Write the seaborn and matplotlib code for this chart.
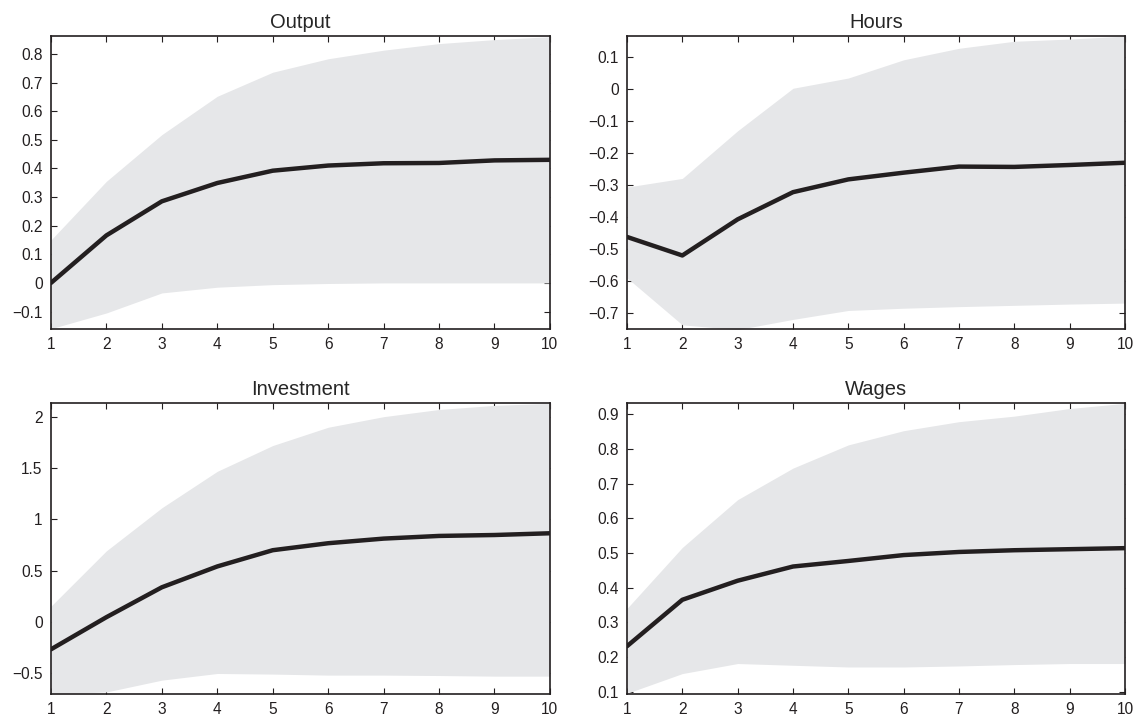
import numpy as np
import pandas as pd
import matplotlib
matplotlib.use('Agg')
import matplotlib.pyplot as plt
import seaborn as sns

# Horizon (periods)
periods = [1, 2, 3, 4, 5, 6, 7, 8, 9, 10]

# Output: median response and bands
output_mid = [0.0, 0.166, 0.285, 0.349, 0.392, 0.41, 0.418, 0.419, 0.428, 0.43]
output_hi = [0.15, 0.355, 0.518, 0.652, 0.736, 0.783, 0.813, 0.836, 0.85, 0.86]
output_lo = [-0.16, -0.105, -0.035, -0.015, -0.006, -0.002, 0.0, 0.0, 0.0, 0.0]

# Hours
hours_mid = [-0.462, -0.52, -0.407, -0.322, -0.282, -0.261, -0.242, -0.243, -0.237, -0.23]
hours_hi = [-0.306, -0.279, -0.13, 0.003, 0.035, 0.092, 0.128, 0.15, 0.157, 0.166]
hours_lo = [-0.59, -0.737, -0.752, -0.72, -0.692, -0.685, -0.68, -0.676, -0.672, -0.669]

# Investment
invest_mid = [-0.265, 0.048, 0.339, 0.542, 0.7, 0.768, 0.813, 0.839, 0.848, 0.865]
invest_hi = [0.155, 0.694, 1.113, 1.468, 1.719, 1.897, 2.0, 2.07, 2.11, 2.13]
invest_lo = [-0.7, -0.68, -0.565, -0.5, -0.506, -0.516, -0.516, -0.52, -0.526, -0.526]

# Wages
wages_mid = [0.231, 0.365, 0.42, 0.461, 0.477, 0.494, 0.503, 0.508, 0.511, 0.514]
wages_hi = [0.34, 0.516, 0.654, 0.745, 0.812, 0.853, 0.879, 0.895, 0.917, 0.932]
wages_lo = [0.095, 0.152, 0.181, 0.176, 0.171, 0.171, 0.174, 0.178, 0.181, 0.181]

titles = ['Output', 'Hours', 'Investment', 'Wages']
mids = [output_mid, hours_mid, invest_mid, wages_mid]
his = [output_hi, hours_hi, invest_hi, wages_hi]
los = [output_lo, hours_lo, invest_lo, wages_lo]
ylims = [(-0.161, 0.862), (-0.75, 0.166), (-0.7, 2.13), (0.093, 0.932)]
yticks = [np.arange(-0.1, 0.81, 0.1), np.arange(-0.7, 0.11, 0.1),
          np.arange(-0.5, 2.01, 0.5), np.arange(0.1, 0.91, 0.1)]
ytick_labels = [['-0.1', '0', '0.1', '0.2', '0.3', '0.4', '0.5', '0.6', '0.7', '0.8'],
                ['-0.7', '-0.6', '-0.5', '-0.4', '-0.3', '-0.2', '-0.1', '0', '0.1'],
                ['-0.5', '0', '0.5', '1', '1.5', '2'],
                ['0.1', '0.2', '0.3', '0.4', '0.5', '0.6', '0.7', '0.8', '0.9']]

sns.set_theme(style='ticks')
plt.rcParams['font.family'] = ['Liberation Sans', 'DejaVu Sans']
plt.rcParams['axes.unicode_minus'] = True

fig = plt.figure(figsize=(11.4, 7.16), dpi=100)
# axes boxes in figure fractions (left, bottom, width, height)
boxes = [(0.0447, 0.5405, 0.4377, 0.409), (0.55, 0.5405, 0.4368, 0.409),
         (0.0447, 0.0307, 0.4377, 0.406), (0.55, 0.0307, 0.4368, 0.406)]

for i in range(4):
    ax = fig.add_axes(boxes[i])
    df = pd.DataFrame({'period': periods, 'mid': mids[i], 'hi': his[i], 'lo': los[i]})
    ax.fill_between(df['period'], df['lo'], df['hi'], color='#e6e7e9', lw=0, zorder=1)
    sns.lineplot(data=df, x='period', y='mid', ax=ax, color='#231f20', lw=3.2,
                 zorder=3, legend=False)
    ax.set_xlim(1, 10)
    ax.set_ylim(*ylims[i])
    ax.set_xticks(periods)
    ax.set_yticks(yticks[i])
    ax.set_yticklabels([s.replace('-', '\u2212') for s in ytick_labels[i]])
    ax.set_xlabel('')
    ax.set_ylabel('')
    ax.set_title(titles[i], fontsize=14.5, pad=6)
    ax.tick_params(direction='in', top=True, right=True, length=4, width=0.8,
                   labelsize=11.2, colors='#231f20', pad=6)
    for s in ax.spines.values():
        s.set_color('#231f20')
        s.set_linewidth(1.2)
        s.set_zorder(4)

fig.savefig('out.png', dpi=100)
